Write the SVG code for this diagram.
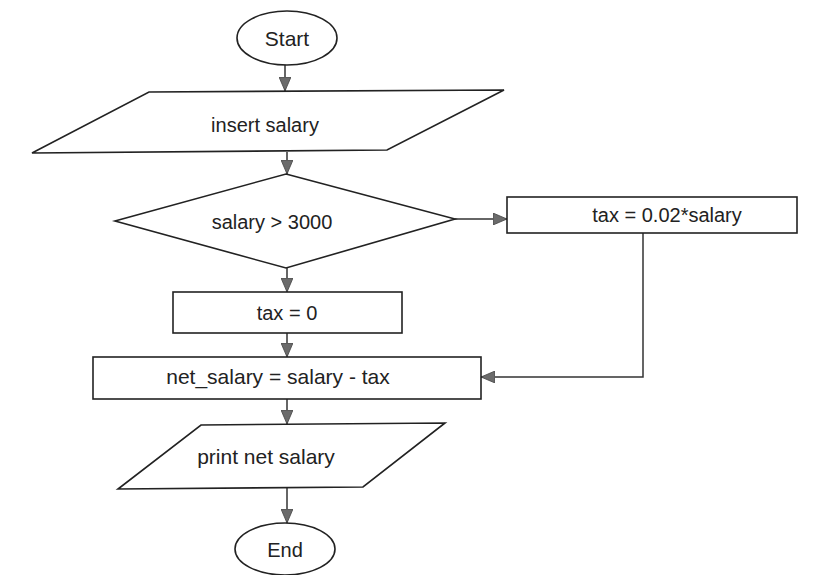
<svg xmlns="http://www.w3.org/2000/svg" width="827" height="575" viewBox="0 0 827 575">
<style>
.shape{fill:#fff;stroke:#222;stroke-width:1.6}
.conn{fill:none;stroke:#333;stroke-width:1.5}
.t{font-family:"Liberation Sans",Arial,sans-serif;font-size:20px;fill:#222;text-anchor:middle}
</style>
<defs>
<marker id="arr" markerUnits="userSpaceOnUse" markerWidth="14" markerHeight="12" refX="14" refY="6" orient="auto">
<path d="M0,0 L14,6 L0,12 z" fill="#6b6b6b" stroke="#444" stroke-width="0.8"/>
</marker>
</defs>
<rect width="827" height="575" fill="#fff"/>
<g id="connectors">
<path class="conn" d="M285,65 L285,91" marker-end="url(#arr)"/>
<path class="conn" d="M287,152 L287,174" marker-end="url(#arr)"/>
<path class="conn" d="M455,219 L507,219" marker-end="url(#arr)"/>
<path class="conn" d="M287,268 L287,292" marker-end="url(#arr)"/>
<path class="conn" d="M287,333 L287,357" marker-end="url(#arr)"/>
<path class="conn" d="M643,233 L643,377 L481,377" marker-end="url(#arr)"/>
<path class="conn" d="M287,399 L287,424" marker-end="url(#arr)"/>
<path class="conn" d="M287,488 L287,523" marker-end="url(#arr)"/>
</g>
<g id="start">
<ellipse class="shape" cx="287" cy="38" rx="50" ry="27"/>
<text class="t" x="287" y="46" style="font-size:21px">Start</text>
</g>
<g id="insert">
<polygon class="shape" points="149,92 504,90 387,150 32,153"/>
<text class="t" x="265" y="132">insert salary</text>
</g>
<g id="decision">
<polygon class="shape" points="286,174 455,219 286,268 115,221"/>
<text class="t" x="272" y="229">salary &gt; 3000</text>
</g>
<g id="taxrate">
<rect class="shape" x="507" y="197" width="290" height="36"/>
<text class="t" x="667" y="222">tax = 0.02*salary</text>
</g>
<g id="taxzero">
<rect class="shape" x="173" y="292" width="229" height="41"/>
<text class="t" x="287" y="320">tax = 0</text>
</g>
<g id="net">
<rect class="shape" x="93" y="357" width="388" height="42"/>
<text class="t" x="278" y="384" style="font-size:21px">net_salary = salary - tax</text>
</g>
<g id="print">
<polygon class="shape" points="201,425 445,423 363,487 118,489"/>
<text class="t" x="266" y="464" style="font-size:21px">print net salary</text>
</g>
<g id="end">
<ellipse class="shape" cx="285" cy="549" rx="50" ry="26"/>
<text class="t" x="285" y="557">End</text>
</g>
</svg>
